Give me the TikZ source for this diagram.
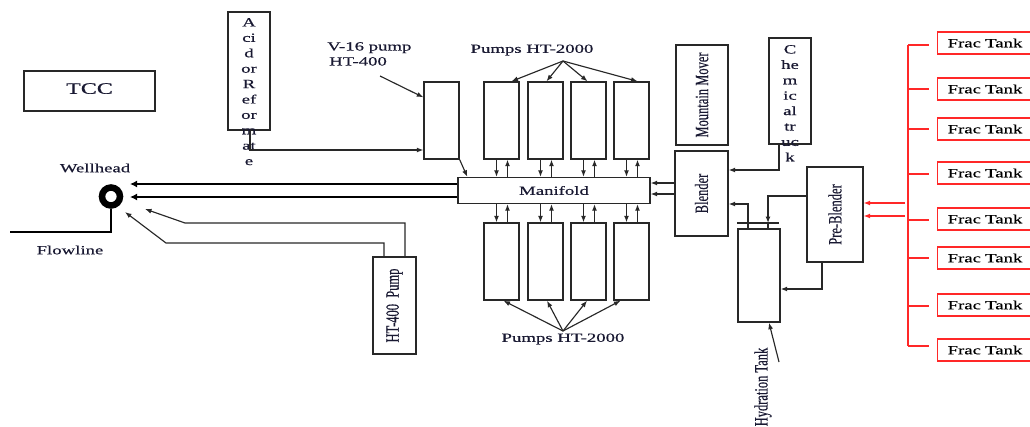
\documentclass[tikz,border=0pt]{standalone}
\usepackage{fontspec}
\setmainfont{Liberation Serif}[FakeBold=0.5]
\newfontfamily\wf[FakeStretch=1.5,FakeBold=0.5]{Liberation Serif}
\usetikzlibrary{arrows.meta,calc}
\definecolor{ln}{RGB}{40,40,40}
\definecolor{txt}{RGB}{25,25,50}
\definecolor{rd}{RGB}{255,40,40}
\newcommand{\vtext}[1]{\rotatebox{90}{\scalebox{1}[1.5]{#1}}}
\tikzset{
 box/.style={draw=ln, line width=1.4pt, inner sep=0pt, text=txt, font=\fontsize{12.5}{15}\selectfont},
 lbl/.style={inner sep=0pt, text=txt, font=\wf\fontsize{12.5}{15}\selectfont},
 vlbl/.style={inner sep=0pt, text=txt, font=\fontsize{12.5}{15}\selectfont},
 arr/.style={draw=ln, line width=1.15pt, -{Latex[length=6.5pt,width=5pt]}},
 pipe/.style={draw=ln, line width=1.15pt},
 bigarr/.style={draw=black, line width=2.5pt, -{Latex[length=7pt,width=7pt]}},
 frac/.style={draw=rd, line width=1.3pt, anchor=west, minimum height=22pt, text width=83pt, inner xsep=10pt, inner ysep=0pt, align=left, text=black, font=\wf\fontsize{12.5}{15}\selectfont},
 rarr/.style={draw=rd, line width=1.1pt, -{Latex[length=6.5pt,width=5pt]}},
 rline/.style={draw=rd, line width=1.3pt},
}
\begin{document}
\begin{tikzpicture}[x=1pt,y=-1pt]
\useasboundingbox (0,0) rectangle (1030,426);
\clip (0,0) rectangle (1030,426);

% TCC
\node[box, minimum width=131pt, minimum height=40pt, font=\wf\fontsize{16}{18}\selectfont] (tcc) at (89.5,91) {\raisebox{5pt}{TCC}};

% Acid or Reformate
\node[box, minimum width=42pt, minimum height=118pt] (acid) at (249,71) {};
\node[lbl, anchor=north, align=center, font=\wf\fontsize{12.5}{15.4}\selectfont] (acidtxt) at (249,18) {A\\ci\\d\\or\\R\\ef\\or\\m\\at\\e};

% V-16 pump
\node[lbl, anchor=north west, align=left] (v16lbl) at (327,42) {V-16 pump\\\hspace*{2pt}HT-400};
\node[box, minimum width=35pt, minimum height=77pt] (v16) at (441.5,120.5) {};
\coordinate (v16a) at (380,76);
\draw[arr] (v16a) -- ($(v16.north west)+(0,16)$);
\coordinate (ac1) at (250,150);
\draw[arr] (acid.south -| ac1) -- (ac1) -- (v16.west |- ac1);

% Manifold
\node[box, minimum width=192pt, minimum height=26pt, font=\wf\fontsize{12.5}{15}\selectfont] (manifold) at (554,190.5) {Manifold};
\draw[arr] (v16.south east) -- ($(manifold.north west)+(10,0)$);

% Pumps
\foreach \n/\x in {1/501.5,2/545.5,3/588.5,4/631.5} {
  \node[box, minimum width=35pt, minimum height=77pt] (t\n) at (\x,120.5) {};
  \node[box, minimum width=35pt, minimum height=77pt] (b\n) at (\x,261.5) {};
  \coordinate (td\n) at ($(t\n.south)+(-5,0)$);
  \coordinate (tu\n) at ($(t\n.south)+(6,0)$);
  \coordinate (bd\n) at ($(b\n.north)+(-5,0)$);
  \coordinate (bu\n) at ($(b\n.north)+(6,0)$);
  \draw[arr] (td\n) -- (td\n |- manifold.north);
  \draw[arr] (tu\n |- manifold.north) -- (tu\n);
  \draw[arr] (bd\n |- manifold.south) -- (bd\n);
  \draw[arr] (bu\n) -- (bu\n |- manifold.south);
}
\node[lbl] (ptop) at (532,50) {Pumps HT-2000};
\coordinate (tap) at (563,61);
\draw[arr] (tap) -- ($(t1.north)+(10,0)$);
\draw[arr] (tap) -- ($(t2.north)+(1,0)$);
\draw[arr] (tap) -- ($(t3.north)+(-1,0)$);
\draw[arr] (tap) -- ($(t4.north)+(6,0)$);
\node[lbl] (pbot) at (563,339) {Pumps HT-2000};
\coordinate (bap) at (563,331);
\draw[arr] (bap) -- ($(b1.south)+(2,0)$);
\draw[arr] (bap) -- ($(b2.south)+(1.5,0)$);
\draw[arr] (bap) -- ($(b3.south)+(-1.5,0)$);
\draw[arr] (bap) -- ($(b4.south)+(-11,0)$);

% Wellhead
\node[circle, draw=black, line width=6.5pt, minimum size=18pt, inner sep=0pt] (wh) at (111,196.5) {};
\node[lbl] (whlbl) at (95,168) {Wellhead};
\node[lbl] (flbl) at (70,250) {Flowline};
\coordinate (fl) at (10,232);
\draw[line width=2.5pt] (wh.south) -- (wh.south |- fl) -- (fl);
\coordinate (wa) at (130,184);
\coordinate (wb) at (130,197);
\draw[bigarr] (manifold.west |- wa) -- (wa);
\draw[bigarr] (manifold.west |- wb) -- (wb);

% HT-400 Pump
\node[box, minimum width=43pt, minimum height=97pt] (ht4) at (394.5,305.5) {\vtext{HT-400\ \ Pump}};
\coordinate (h1a) at (405,223);
\coordinate (h1b) at (185,223);
\coordinate (h1t) at (145,209);
\draw[arr] (ht4.north -| h1a) -- (h1a) -- (h1b) -- (h1t);
\coordinate (h2a) at (384,243);
\coordinate (h2b) at (166,243);
\coordinate (h2t) at (125,212);
\draw[arr] (ht4.north -| h2a) -- (h2a) -- (h2b) -- (h2t);

% Blender, Mountain Mover, Chemical truck
\node[box, minimum width=53pt, minimum height=85pt] (blender) at (701.5,193.5) {\vtext{Blender}};
\coordinate (bm1) at (0,183);
\coordinate (bm2) at (0,194);
\draw[arr] (blender.west |- bm1) -- (manifold.east |- bm1);
\draw[arr] (blender.west |- bm2) -- (manifold.east |- bm2);
\node[box, minimum width=52pt, minimum height=100pt] (mover) at (702,95) {\vtext{Mountain Mover}};
\node[box, minimum width=42pt, minimum height=106pt] (chem) at (790,91) {};
\node[lbl, anchor=north, align=center, font=\wf\fontsize{12.5}{15.4}\selectfont] (chemtxt) at (790,45) {C\\he\\m\\ic\\al\\tr\\uc\\k};
\coordinate (ch1) at (779,170);
\draw[arr] (chem.south -| ch1) -- (ch1) -- (blender.east |- ch1);

% Pre-Blender and Hydration tank
\node[box, minimum width=56pt, minimum height=95pt] (pre) at (835,214.5) {\vtext{Pre-Blender}};
\node[box, minimum width=42pt, minimum height=93pt] (hyd) at (759,275.5) {};
\coordinate (capL) at (737,223);
\coordinate (capR) at (779,223);
\draw[pipe] (capL) -- (capR);
\coordinate (s1) at (748,223);
\coordinate (s2) at (768,223);
\draw[pipe] (s1) -- (s1 |- hyd.north);
\draw[pipe] (s2) -- (s2 |- hyd.north);
\coordinate (hb) at (748,204);
\draw[arr] (s1) -- (hb) -- (blender.east |- hb);
\coordinate (pc) at (768,196);
\draw[arr] (pre.west |- pc) -- (pc) -- (s2);
\coordinate (ph) at (822,289);
\draw[arr] (pre.south -| ph) -- (ph) -- (hyd.east |- ph);
\node[vlbl] (hydlbl) at (763,387) {\vtext{Hydration Tank}};
\coordinate (hl) at (779,362);
\draw[arr] (hl) -- ($(hyd.south)+(10,0)$);

% Frac tanks
\coordinate (busT) at (908,45);
\coordinate (busB) at (908,346);
\draw[rline] (busT) -- (busB);
\foreach \n/\y/\s in {1/43/45,2/89/89,3/129/129,4/173/174,5/219/220,6/258/258,7/305/306,8/350/346} {
  \node[frac] (f\n) at (937,\y) {Frac Tank};
  \coordinate (st\n) at (929,\s);
  \draw[rline] (busT |- st\n) -- (st\n);
}
\coordinate (r1) at (905,203);
\coordinate (r2) at (905,216);
\draw[rarr] (r1) -- (pre.east |- r1);
\draw[rarr] (r2) -- (pre.east |- r2);
\end{tikzpicture}
\end{document}
